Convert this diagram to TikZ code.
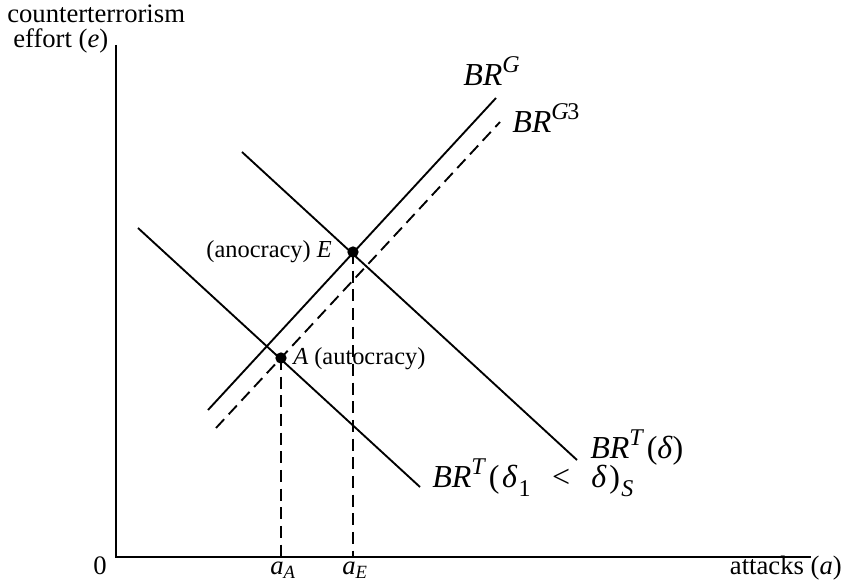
\documentclass[tikz,border=0pt]{standalone}
\usepackage{fontspec}
\setmainfont{Liberation Serif}
\newcommand{\mysup}[1]{\raisebox{0.42em}{\fontsize{18}{20}\selectfont\textit{#1}}}
\newcommand{\mysub}[1]{\raisebox{-0.28em}{\fontsize{18}{20}\selectfont #1}}
\begin{document}
\begin{tikzpicture}[x=0.75pt,y=-0.75pt,
  curve/.style={line width=1.4pt},
  dcurve/.style={line width=1.4pt,dash pattern=on 9pt off 5pt},
  axisline/.style={line width=1.5pt},
  lbl/.style={inner sep=0pt,font=\fontsize{20}{24}\selectfont},
  ptl/.style={inner sep=0pt,font=\fontsize{18.3}{22}\selectfont},
  brl/.style={inner sep=0pt,font=\fontsize{24}{28}\selectfont},
  dot/.style={circle,fill=black,inner sep=0pt,minimum size=8.5pt}]
\useasboundingbox (0,0) rectangle (844,588);
% axes
\coordinate (O) at (116,557);
\coordinate (ytop) at (116,45);
\coordinate (xend) at (811,557);
\draw[axisline] (ytop) -- (O) -- (xend);
% curves
\coordinate (g1) at (208,410); \coordinate (g2) at (496,98);
\coordinate (d1) at (216,428); \coordinate (d2) at (500,122);
\coordinate (t1) at (242,152); \coordinate (t2) at (577,460);
\coordinate (s1) at (138,228); \coordinate (s2) at (420,487);
\draw[curve] (g1) -- (g2);
\draw[dcurve] (d1) -- (d2);
\draw[curve] (t1) -- (t2);
\draw[curve] (s1) -- (s2);
% points
\node[dot] (E) at (353,252) {};
\node[dot] (A) at (281,358) {};
\coordinate (aE) at (353,557);
\coordinate (aA) at (281,557);
\draw[dcurve] (E.center) -- (aE);
\draw[dcurve] (A.center) -- (aA);
% labels
\node[lbl,anchor=base west] (yl1) at (7,23) {counterterrorism};
\node[lbl,anchor=base west] (yl2) at (13,48) {effort (\textit{e})};
\node[lbl,anchor=base east] (zero) at (107,574) {0};
\node[lbl,anchor=base] (laA) at (283,574) {\textit{a}\textsubscript{\textit{A}}};
\node[lbl,anchor=base] (laE) at (355,574) {\textit{a}\textsubscript{\textit{E}}};
\node[lbl,anchor=base east] (xl) at (842,574) {attacks (\textit{a})};
\node[brl,anchor=base west] (lG) at (463,86) {\textit{BR}\mysup{G}};
\node[brl,anchor=base west] (lG3) at (512,133) {\textit{BR}\mysup{G\kern-1pt\upshape 3}};
\node[brl,anchor=base west] (lT) at (590,459) {\textit{BR}\mysup{T}\kern2pt(\textit{δ})};
\node[brl,anchor=base west] (lS) at (432,488) {\textit{BR}\mysup{T}\kern2pt(\kern2pt\textit{δ}\kern1pt\mysub{1}\hspace{16pt}<\hspace{16pt}\textit{δ}\kern2pt)\kern1pt\mysub{\textit{S}}};
\node[ptl,anchor=base east] (lE) at (332,258) {(anocracy) \textit{E}};
\node[ptl,anchor=base west] (lA) at (293,365) {\textit{A} (autocracy)};
\end{tikzpicture}
\end{document}
